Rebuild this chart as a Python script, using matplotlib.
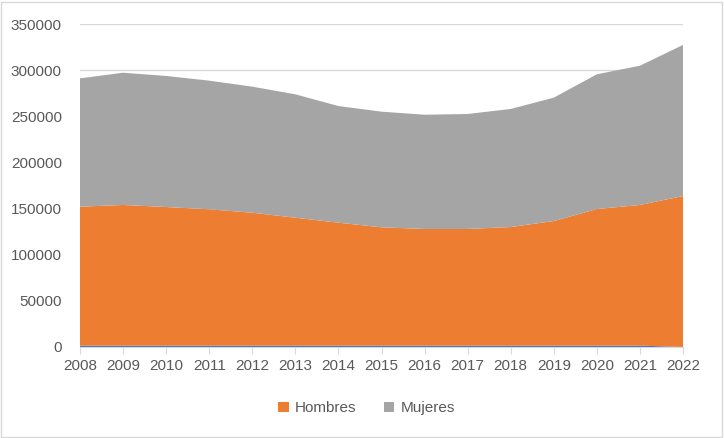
import matplotlib.pyplot as plt
from matplotlib.patches import Rectangle

years = list(range(2008, 2023))
# thin unnamed series at the bottom (no legend entry)
otros = [1500, 1500, 1500, 1500, 1500, 1500, 1500, 1500, 1500, 1500, 1500, 1500, 1500, 1500, 0]
hombres = [150500, 152400, 150200, 147700, 144000, 138600, 133200, 128200, 126400, 126400, 128500, 135000, 148000, 152400, 163600]
mujeres = [139100, 143300, 142000, 139400, 136600, 133700, 126400, 125300, 123800, 124600, 127900, 133700, 146000, 150900, 163700]

plt.rcParams['font.family'] = ['Liberation Sans', 'DejaVu Sans']
txt = '#595959'
grid = '#D9D9D9'

fig = plt.figure(figsize=(7.24, 4.38), dpi=100)
ax = fig.add_axes([80 / 724, 1 - 347 / 438, (683 - 80) / 724, (347 - 24) / 438])

ax.stackplot(years, otros, hombres, mujeres,
             colors=['#4472C4', '#ED7D31', '#A5A5A5'],
             labels=['_otros', 'Hombres', 'Mujeres'], linewidth=0)

ax.set_xlim(2008, 2022)
ax.set_ylim(0, 350000)
ax.set_yticks(range(0, 350001, 50000))
ax.set_xticks(years)
ax.grid(axis='y', color=grid, linewidth=1)
ax.set_axisbelow(True)
for s in ['top', 'right', 'left']:
    ax.spines[s].set_visible(False)
ax.spines['bottom'].set_color(grid)
ax.tick_params(axis='y', length=0, pad=13, labelsize=11, labelcolor=txt)
ax.tick_params(axis='x', length=5, color=grid, pad=4, labelsize=11, labelcolor=txt)

leg = ax.legend(loc='center', bbox_to_anchor=(0.475, -0.19), ncol=2, frameon=False,
                handlelength=0.7, handleheight=0.7, handletextpad=0.4, columnspacing=1.8,
                fontsize=11)
for t in leg.get_texts():
    t.set_color(txt)

fig.patches.append(Rectangle((0.002, 0.003), 0.995, 0.993, transform=fig.transFigure,
                             fill=False, edgecolor=grid, linewidth=1))

fig.savefig('out.png', dpi=100)
